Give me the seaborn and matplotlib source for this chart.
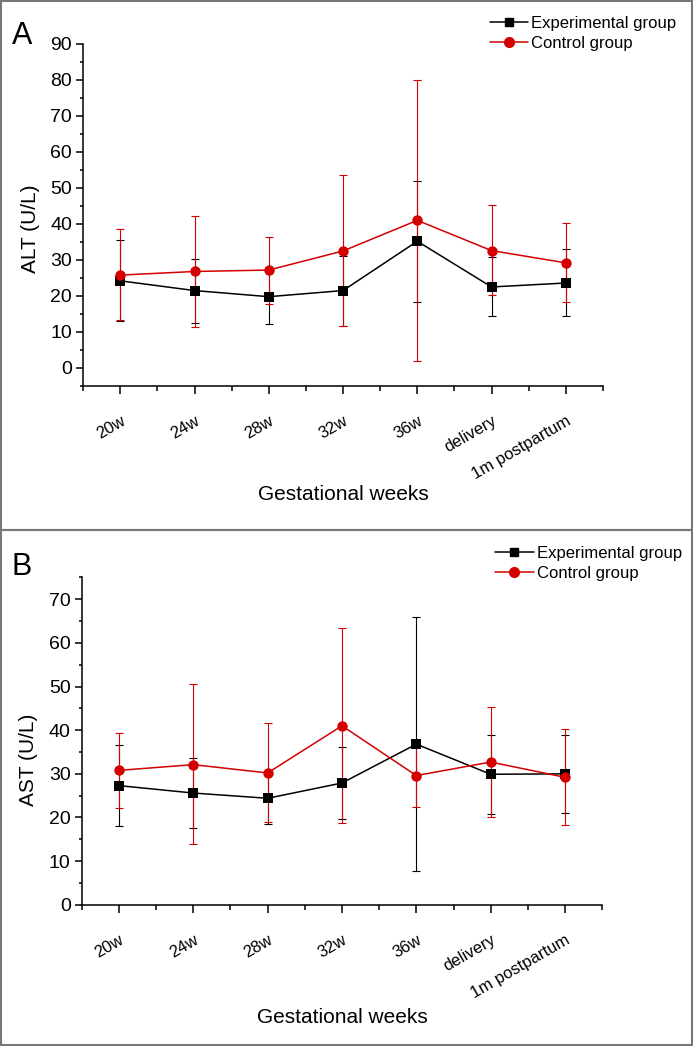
import matplotlib
matplotlib.use('Agg')
import matplotlib.pyplot as plt
import seaborn as sns
import pandas as pd
import numpy as np
from matplotlib.patches import Rectangle
from matplotlib.ticker import MultipleLocator

# 数据
weeks = ['20w', '24w', '28w', '32w', '36w', 'delivery', '1m postpartum']

alt_exp = [24.2, 21.5, 19.8, 21.5, 35.2, 22.5, 23.6]
alt_exp_hi = [35.6, 30.3, 27.0, 31.2, 52.0, 30.7, 33.0]
alt_exp_lo = [13.0, 12.6, 12.3, 11.7, 18.3, 14.3, 14.3]
alt_ctl = [25.8, 26.8, 27.2, 32.5, 41.0, 32.6, 29.2]
alt_ctl_hi = [38.5, 42.3, 36.4, 53.5, 80.0, 45.3, 40.3]
alt_ctl_lo = [13.2, 11.3, 17.8, 11.6, 2.0, 20.2, 18.3]

ast_exp = [27.3, 25.6, 24.4, 27.9, 36.8, 29.9, 30.0]
ast_exp_hi = [36.5, 33.6, 30.2, 36.1, 65.9, 39.0, 38.9]
ast_exp_lo = [18.1, 17.5, 18.6, 19.6, 7.8, 20.8, 21.0]
ast_ctl = [30.8, 32.1, 30.2, 41.0, 29.6, 32.7, 29.2]
ast_ctl_hi = [39.4, 50.5, 41.6, 63.3, 36.8, 45.4, 40.2]
ast_ctl_lo = [22.1, 13.9, 19.0, 18.8, 22.4, 20.1, 18.3]

sns.set_style('ticks')
plt.rcParams['font.family'] = ['Liberation Sans', 'DejaVu Sans']
plt.rcParams.update({
    'text.color': 'black', 'axes.labelcolor': 'black', 'axes.edgecolor': 'black',
    'xtick.color': 'black', 'ytick.color': 'black',
})

RED = '#d40000'
BLACK = '#000000'

fig = plt.figure(figsize=(6.93, 10.46), dpi=100)


def draw_panel(ax, exp, exp_hi, exp_lo, ctl, ctl_hi, ctl_lo, ylabel, ylim, yticks,
               xlab_y, ylab_y):
    pos = np.arange(len(weeks))
    df = pd.DataFrame({
        'pos': np.concatenate([pos, pos]),
        'value': exp + ctl,
        'group': ['Experimental group'] * len(weeks) + ['Control group'] * len(weeks),
    })
    # 误差棒
    for vals, hi, lo, c in [(exp, exp_hi, exp_lo, BLACK), (ctl, ctl_hi, ctl_lo, RED)]:
        v = np.array(vals)
        yerr = [v - np.array(lo), np.array(hi) - v]
        ax.errorbar(pos, v, yerr=yerr, fmt='none', ecolor=c, elinewidth=0.8,
                    capsize=3, capthick=0.8, zorder=2)
    sns.lineplot(data=df, x='pos', y='value', hue='group', style='group',
                 palette={'Experimental group': BLACK, 'Control group': RED},
                 markers={'Experimental group': 's', 'Control group': 'o'},
                 dashes=False, markersize=7.5, markeredgewidth=0, linewidth=1.1,
                 ax=ax, zorder=3, legend=False)
    ax.set_xlim(-0.5, 6.5)
    ax.set_ylim(*ylim)
    ax.set_yticks(yticks)
    ax.yaxis.set_minor_locator(MultipleLocator(5))
    ax.set_xticks(pos)
    ax.set_xticks(np.arange(-0.5, 7, 1), minor=True)
    ax.set_xticklabels(weeks, rotation=30, ha='right', rotation_mode='anchor', fontsize=12)
    ax.tick_params(axis='y', labelsize=14, length=5, width=1.1, pad=3)
    ax.tick_params(axis='y', which='minor', length=2.5, width=1.1)
    ax.tick_params(axis='x', length=5.5, width=1.1, pad=14)
    ax.tick_params(axis='x', which='minor', length=3.5, width=1.1)
    ax.set_xlabel('Gestational weeks', fontsize=15, va='center')
    ax.xaxis.set_label_coords(0.5, xlab_y)
    ax.set_ylabel(ylabel, fontsize=15, va='center')
    ax.yaxis.set_label_coords(-0.102, ylab_y)
    for s in ['left', 'bottom']:
        ax.spines[s].set_linewidth(1.1)
    sns.despine(ax=ax)


axA = fig.add_axes([0.120, 0.631, 0.750, 0.327])
draw_panel(axA, alt_exp, alt_exp_hi, alt_exp_lo, alt_ctl, alt_ctl_hi, alt_ctl_lo,
           'ALT (U/L)', (-5, 90), np.arange(0, 91, 10), -0.316, 0.459)

axB = fig.add_axes([0.118, 0.135, 0.751, 0.313])
draw_panel(axB, ast_exp, ast_exp_hi, ast_exp_lo, ast_ctl, ast_ctl_hi, ast_ctl_lo,
           'AST (U/L)', (0, 75), np.arange(0, 71, 10), -0.345, 0.442)

# 图例
for ax, x0, y0 in [(axA, 0.685, 0.9995), (axB, 0.693, 0.4925)]:
    h1, = ax.plot([], [], color=BLACK, marker='s', markersize=6, lw=1.1)
    h2, = ax.plot([], [], color=RED, marker='o', markersize=7, lw=1.1)
    fig.legend([h1, h2], ['Experimental group', 'Control group'],
               loc='upper left', bbox_to_anchor=(x0, y0), frameon=False,
               fontsize=12, handlelength=2.3, handletextpad=0.2, labelspacing=0.3)

# 面板标签
fig.text(0.017, 0.958, 'A', fontsize=22, va='baseline')
fig.text(0.017, 0.450, 'B', fontsize=22, va='baseline')

# 面板边框
fig.add_artist(Rectangle((0.001, 0.493), 0.997, 0.506, transform=fig.transFigure,
                         fill=False, edgecolor='#777777', lw=1.5))
fig.add_artist(Rectangle((0.001, 0.001), 0.997, 0.492, transform=fig.transFigure,
                         fill=False, edgecolor='#777777', lw=1.5))

plt.savefig('out.png', dpi=100)
